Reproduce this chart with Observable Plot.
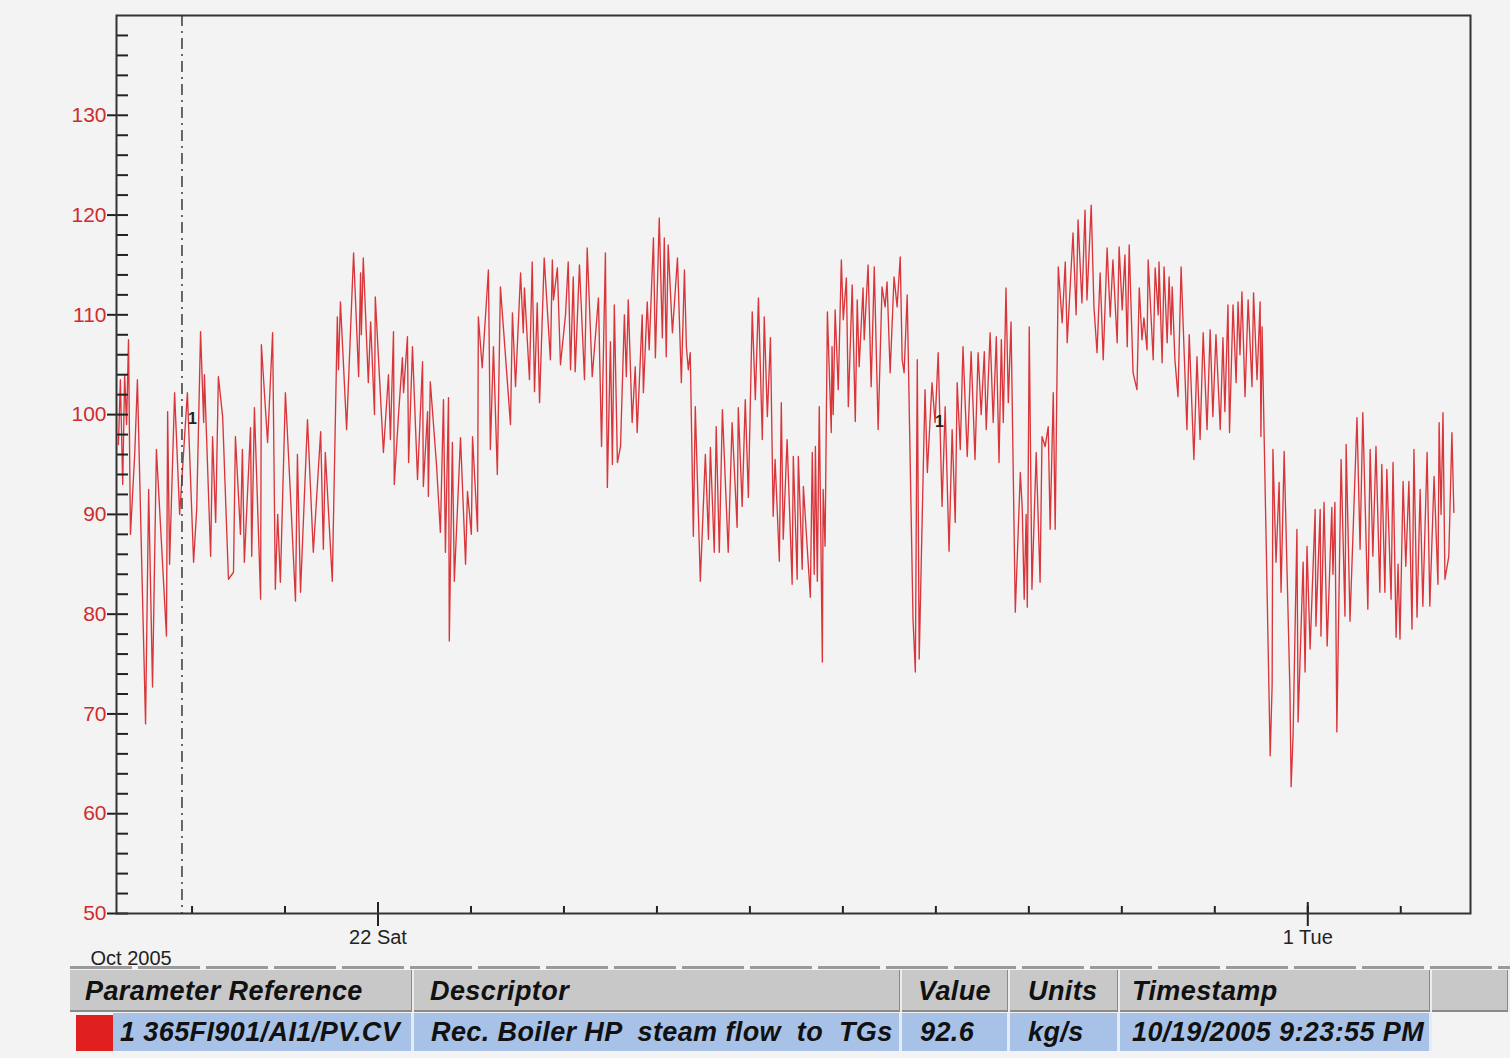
<!DOCTYPE html>
<html><head><meta charset="utf-8">
<script src="https://cdn.jsdelivr.net/npm/d3@7"></script>
<script src="https://cdn.jsdelivr.net/npm/@observablehq/plot@0.6"></script>
<style>
html,body{margin:0;padding:0;background:#f3f3f3;}
#wrap{position:relative;width:1510px;height:1058px;overflow:hidden;font-family:"Liberation Sans",Arial,sans-serif;}
#chart{position:absolute;left:0;top:0;}
.dash{position:absolute;left:70px;top:966px;width:1440px;height:3px;background:repeating-linear-gradient(to right,#9a9a9a 0 62px,transparent 62px 68px);}
.cell{position:absolute;box-sizing:border-box;font-weight:bold;font-style:italic;font-size:27px;letter-spacing:0.4px;color:#111;white-space:pre;overflow:hidden;}
.hd{top:970px;height:42px;line-height:42px;background:#c8c8c8;border-right:2px solid #ececec;box-shadow:inset -1px -2px 0 #8a8a8a;}
.dt{top:1013px;height:38px;line-height:38px;background:#a7c2e6;border-right:3px solid #e4ebf4;}
.red{position:absolute;left:76px;top:1015px;width:37px;height:36px;background:#e0201e;}
</style></head><body>
<div id="wrap">
  <div id="chart"></div>
  <div class="dash"></div>
  <div class="cell hd" style="left:70px;width:344px;padding-left:15px;">Parameter Reference</div>
  <div class="cell hd" style="left:414px;width:488px;padding-left:16px;">Descriptor</div>
  <div class="cell hd" style="left:902px;width:108px;padding-left:16px;">Value</div>
  <div class="cell hd" style="left:1010px;width:110px;padding-left:18px;">Units</div>
  <div class="cell hd" style="left:1120px;width:312px;padding-left:12px;">Timestamp</div>
  <div class="cell hd" style="left:1432px;width:78px;"></div>
  <div class="red"></div>
  <div class="cell dt" style="left:113px;width:301px;padding-left:7px;">1 365FI901/AI1/PV.CV</div>
  <div class="cell dt" style="left:414px;width:488px;padding-left:17px;">Rec. Boiler HP  steam flow  to  TGs</div>
  <div class="cell dt" style="left:902px;width:108px;padding-left:18px;">92.6</div>
  <div class="cell dt" style="left:1010px;width:110px;padding-left:18px;">kg/s</div>
  <div class="cell dt" style="left:1120px;width:312px;padding-left:12px;">10/19/2005 9:23:55 PM</div>
</div>
<script>
// hours since 2005-10-19 00:00 (clock time)
const hours = [
  5.0, 5.5, 6.1, 6.6, 7.1, 7.6, 8.1, 9.2, 9.9, 11.2,
  12.0, 12.8, 13.8, 14.8, 17.4, 17.7, 18.2, 19.5, 20.8, 22.8,
  24.4, 25.2, 26.2, 27.0, 27.2, 28.8, 29.3, 30.1, 30.8, 31.9,
  33.4, 34.7, 35.2, 36.5, 37.0, 37.5, 39.1, 39.4, 40.1, 41.7,
  41.9, 43.5, 44.8, 45.5, 46.1, 46.8, 48.1, 49.4, 50.7, 51.2,
  52.0, 53.8, 55.3, 57.2, 57.9, 58.4, 60.2, 61.5, 61.8, 62.3,
  63.9, 65.7, 67.0, 67.5, 67.7, 68.2, 69.5, 70.1, 71.1, 71.3,
  73.4, 74.7, 75.2, 76.0, 76.2, 77.3, 78.3, 78.6, 79.6, 79.9,
  80.9, 82.2, 83.5, 83.7, 84.8, 85.0, 85.5, 87.1, 88.1, 88.9,
  89.4, 90.2, 90.4, 91.2, 91.7, 93.3, 94.6, 95.1, 96.1, 96.4,
  97.7, 97.9, 98.9, 100.5, 101.0, 101.8, 102.8, 103.6, 106.2, 106.7,
  107.5, 108.8, 109.5, 109.8, 111.1, 111.8, 112.4, 113.1, 113.7, 114.9,
  116.5, 117.0, 117.3, 118.3, 119.1, 120.4, 121.1, 121.7, 122.4, 122.9,
  124.0, 125.3, 126.0, 127.3, 128.9, 129.7, 130.7, 131.2, 132.0, 132.5,
  133.0, 133.8, 134.6, 135.6, 136.1, 136.6, 137.6, 138.4, 138.9, 140.2,
  140.5, 141.5, 142.0, 143.1, 143.6, 144.6, 145.4, 145.9, 146.4, 146.9,
  148.0, 149.3, 150.3, 151.1, 151.6, 152.1, 152.6, 153.4, 153.9, 155.2,
  156.5, 157.3, 157.8, 158.8, 159.3, 160.1, 160.9, 162.4, 163.4, 164.7,
  165.0, 166.0, 166.8, 167.6, 168.6, 169.4, 170.2, 171.2, 171.7, 172.5,
  173.3, 174.0, 174.5, 175.6, 176.1, 176.6, 177.6, 178.9, 179.2, 180.2,
  180.5, 181.5, 181.8, 183.6, 184.1, 184.6, 184.9, 185.4, 185.9, 186.7,
  186.9, 187.4, 188.0, 188.5, 189.0, 189.2, 189.5, 190.0, 190.8, 191.6,
  192.1, 192.9, 193.4, 194.4, 195.2, 195.7, 196.2, 197.2, 197.5, 198.5,
  199.3, 200.1, 201.1, 202.1, 202.9, 203.4, 204.2, 205.2, 206.0, 206.8,
  207.3, 207.8, 208.6, 210.1, 210.7, 211.2, 211.7, 212.5, 213.2, 213.8,
  215.0, 215.8, 216.6, 217.6, 218.4, 219.4, 220.2, 221.0, 221.5, 222.3,
  223.0, 224.1, 225.1, 226.1, 226.9, 227.7, 228.5, 229.0, 230.0, 230.8,
  231.6, 232.3, 232.9, 233.4, 234.1, 234.7, 235.4, 236.5, 237.8, 238.3,
  238.8, 239.3, 239.6, 240.1, 240.8, 241.9, 242.9, 243.4, 244.2, 245.0,
  245.5, 246.3, 246.8, 247.6, 248.6, 249.4, 249.9, 251.4, 252.2, 252.7,
  253.7, 254.5, 255.0, 256.1, 256.8, 257.6, 258.4, 259.2, 260.2, 261.0,
  261.7, 262.8, 263.3, 264.1, 264.8, 265.4, 265.9, 266.9, 267.9, 268.5,
  269.2, 269.7, 270.5, 270.8, 272.1, 272.6, 273.4, 273.6, 274.4, 274.9,
  275.7, 276.2, 276.7, 277.0, 277.7, 278.5, 279.3, 280.8, 281.4, 282.6,
  283.4, 284.2, 285.0, 286.0, 286.8, 287.5, 288.3, 289.4, 290.1, 290.6,
  291.4, 291.8, 292.7, 293.5, 294.0, 294.5, 295.0, 295.8, 296.6, 297.6,
  298.0, 298.9, 299.7, 299.9, 300.2, 302.3, 302.8, 303.0, 303.8, 304.6,
  305.1, 305.9, 307.4, 307.7, 308.2, 309.2, 309.5, 310.8, 311.3, 311.8,
  312.6, 313.9, 314.1, 315.2, 315.4, 316.2, 317.0, 318.2, 318.5, 319.0,
  319.5, 320.6, 321.6, 321.9, 322.9, 324.7, 325.5, 326.2, 327.5, 328.1,
  328.8, 329.6, 330.6, 331.1, 331.9, 332.4, 333.5, 334.0, 334.8, 335.3,
  335.8, 336.6, 337.3, 338.1, 338.9, 339.4, 340.2, 341.0, 341.7, 342.8,
  343.5, 344.6, 345.6, 345.9, 346.4, 346.9, 347.4, 348.4, 349.2, 349.7
];
// steam flow, kg/s
const flow = [
  97, 103.5, 93, 104, 99, 107.5, 88, 96, 103.5, 82,
  69, 92.5, 72.7, 96.5, 77.8, 100.3, 85, 102.2, 90, 102.2,
  85.2, 90.5, 108.3, 99.2, 104, 85.8, 97.8, 89.2, 103.8, 99.8,
  83.5, 84.2, 97.8, 88, 96.5, 85.2, 98.7, 85.8, 100.7, 81.5,
  107, 97.2, 108.2, 82.5, 90, 83.2, 102.2, 92, 81.3, 96,
  82.2, 99.5, 86.2, 98.3, 86.5, 96.2, 83.3, 109.8, 104.5, 111.3,
  98.5, 116.2, 103.8, 114.2, 108, 115.7, 103.2, 109.3, 100, 111.8,
  96.2, 104, 97.5, 108.3, 93, 100, 105.7, 102.2, 107.8, 95.2,
  106.8, 93.5, 105.3, 92.8, 100.3, 91.8, 103.3, 95, 88.2, 101.5,
  86.2, 101.7, 77.3, 97.2, 83.3, 97.7, 85, 92.3, 88, 97.8,
  88.3, 109.8, 104.7, 114.5, 96.5, 106.8, 94, 112.8, 99, 110.2,
  102.8, 114.2, 108.2, 112.7, 103.5, 115.3, 102.3, 111.2, 101.2, 115.7,
  105.5, 115.5, 111.5, 114.7, 105, 110, 115.3, 104.5, 113.8, 104.3,
  115, 103.5, 116.7, 103.8, 111.7, 96.8, 116.2, 92.7, 107.3, 95,
  111, 95.2, 96.8, 110, 103.8, 111.5, 99.2, 104.8, 98.2, 110,
  102.2, 111.3, 106.5, 117.7, 105.7, 119.7, 107.7, 117.7, 105.8, 117,
  108.2, 115.7, 103.2, 114.5, 106.8, 104.5, 106.2, 87.8, 100.8, 83.3,
  96, 87.5, 96.7, 86.2, 98.8, 86.2, 100.5, 86.2, 99.2, 88.7,
  100.7, 90.8, 101.5, 91.7, 110.3, 101.5, 111.7, 97.5, 109.8, 99.8,
  107.7, 89.8, 95.5, 85.3, 101.2, 87.5, 97.5, 83, 95.8, 83.5,
  95.8, 84.5, 92.8, 81.7, 96.2, 84, 96.8, 83.3, 100.8, 75.2,
  92.5, 86.8, 110.3, 104.2, 98.2, 106.8, 100, 110.5, 102.5, 115.5,
  109.5, 113.7, 100.8, 113, 99.3, 111.5, 104.8, 112.7, 107.5, 115,
  102.8, 114.8, 98.5, 112.8, 110.8, 113.3, 104.2, 113.8, 110.8, 115.8,
  105.5, 104.2, 112, 79.5, 74.2, 105.5, 75.5, 90.2, 102.5, 94.2,
  103.2, 99.2, 106.2, 90.8, 100.8, 86.3, 98.5, 89.2, 103.2, 96.5,
  106.8, 95.8, 106.3, 95.5, 106.2, 100, 106.3, 98.5, 108.2, 99.2,
  107.8, 95.2, 107.5, 99.2, 112.7, 101.2, 109.3, 80.2, 94.2, 90.5,
  81.5, 90, 80.7, 108.8, 82.5, 96.2, 83.2, 97.8, 96.8, 98.8,
  88.5, 102.2, 88.5, 114.8, 109.2, 115.3, 107.2, 118.2, 110, 119.5,
  111.2, 120.5, 111.5, 121, 110.8, 106.2, 114.2, 105.5, 116.7, 109.8,
  115.5, 107.2, 116.8, 110.5, 116, 106.8, 117, 104.2, 102.5, 112.7,
  107.5, 109.7, 106.5, 115.5, 105.5, 114.7, 110, 115.3, 105.2, 114.8,
  107.2, 113.8, 108, 112.8, 105.5, 101.8, 114.8, 98.5, 108, 95.5,
  105.8, 97.5, 108.2, 98.5, 108.5, 99.8, 108, 98.5, 107.7, 100.3,
  111, 98.2, 111, 103.2, 111.3, 106, 112.3, 101.8, 111.5, 102.8,
  112.2, 103.5, 111.3, 97.8, 108.8, 65.8, 73, 96.5, 85.2, 93.2,
  82.2, 96.3, 72.2, 62.7, 67.8, 88.5, 69.2, 85.2, 74.2, 86.8,
  76.5, 90.5, 78.8, 90.5, 77.8, 91.2, 76.8, 90.7, 84, 91.2,
  68.2, 95.5, 79.8, 97, 79.3, 99.7, 86.5, 100.2, 80.5, 96.5,
  85.8, 96.8, 82.2, 95, 82.2, 94.5, 81.5, 95.2, 77.7, 85,
  77.5, 93.3, 84.8, 93.3, 78.5, 96.5, 79.7, 92.5, 80.8, 96.2,
  80.8, 93.8, 83, 99.2, 90, 100.2, 83.5, 85.8, 98.2, 90.2
];
const yTickValues = [50, 60, 70, 80, 90, 100, 110, 120, 130];
const yMinorValues = [50,52,54,56,58,60,62,64,66,68,70,72,74,76,78,80,82,84,86,88,90,92,94,96,98,100,102,104,106,108,110,112,114,116,118,120,122,124,126,128,130,132,134,136,138];
const dayHours = [24, 48, 72, 96, 120, 144, 168, 192, 216, 240, 264, 288, 312, 336];
const majorDayHours = [72, 312];
const majorDayLabels = ["22 Sat", "1 Tue"];
const cursorHour = 21.4; // 10/19/2005 9:23:55 PM
const markerHours = [23.6, 216.4];
const markerValues = [99.6, 99.3];

const T0 = Date.UTC(2005, 9, 19);
const toDate = h => new Date(T0 + h * 3600000);
const data = hours.map((h, i) => ({t: toDate(h), v: flow[i]}));
const markers = markerHours.map((h, i) => ({t: toDate(h), v: markerValues[i]}));
const days = dayHours.map(toDate);
const majors = majorDayHours.map(toDate);
const labelOf = new Map(majors.map((d, i) => [+d, majorDayLabels[i]]));

const W = 1510, H = 968, ML = 116, MR = 40, MT = 15, MB = 55;
const plotW = W - ML - MR, plotH = H - MT - MB;

const chart = Plot.plot({
  width: W, height: H,
  marginLeft: ML, marginRight: MR, marginTop: MT, marginBottom: MB,
  style: {background: "transparent", fontFamily: "'Liberation Sans', Arial, sans-serif", overflow: "visible"},
  x: {type: "utc", domain: [toDate(4.5), toDate(354)], label: null},
  y: {domain: [50, 140], label: null},
  marks: [
    Plot.line(data, {x: "t", y: "v", stroke: "#d9363b", strokeWidth: 1.35}),
    Plot.ruleX([toDate(cursorHour)], {stroke: "#444", strokeWidth: 1.6, strokeDasharray: "11,5,2,5"}),
    Plot.text(markers, {x: "t", y: "v", text: () => "1", fill: "#222", fontSize: 16, fontWeight: "bold", dx: 2}),
    Plot.tickY(yMinorValues, {y: d => d, insetRight: plotW - 12, stroke: "#222", strokeWidth: 2}),
    Plot.axisY(yTickValues, {tickSize: 9, tickPadding: 1, fontSize: 21, fill: "#cf2d2d", stroke: "#222", strokeWidth: 2, label: null}),
    Plot.tickX(days, {x: d => d, insetTop: plotH - 7, stroke: "#222", strokeWidth: 2}),
    Plot.tickX(majors, {x: d => d, insetTop: plotH - 11, stroke: "#222", strokeWidth: 2}),
    Plot.axisX(majors, {tickSize: 13, tickPadding: 3, fontSize: 20, fill: "#222", stroke: "#222", strokeWidth: 2,
      tickFormat: d => labelOf.get(+d), label: null}),
    Plot.frame({stroke: "#333", strokeWidth: 2}),
    Plot.text(["Oct 2005"], {frameAnchor: "bottom-left", text: d => d, dx: -26, dy: 45,
      textAnchor: "start", lineAnchor: "middle", fontSize: 20, fill: "#222"})
  ]
});
document.getElementById("chart").appendChild(chart);
</script>
</body></html>
